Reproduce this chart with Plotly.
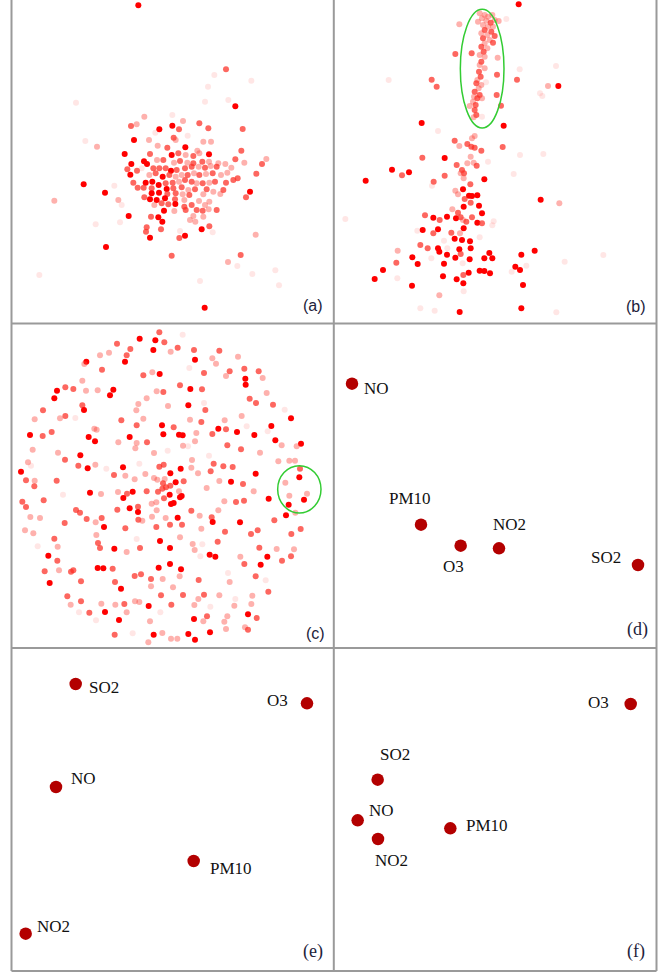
import plotly.graph_objects as go

W, H = 668, 973

# ---------------- data (panel-local units) ----------------
# each point: (x, y, intensity level 1..4)
a_points = [
    (415, 16, 4), (678, 208, 3), (643, 225, 1), (754, 242, 1), (624, 260, 1), (228, 308, 1), (615, 305, 1),
    (685, 300, 1), (706, 319, 4), (433, 350, 2), (517, 345, 1), (549, 363, 2), (598, 370, 3), (393, 378, 3),
    (410, 373, 2), (478, 388, 4), (517, 377, 4), (537, 388, 3), (625, 385, 3), (728, 387, 3), (466, 398, 1),
    (447, 420, 2), (402, 420, 4), (521, 413, 3), (527, 420, 2), (563, 407, 1), (610, 425, 2), (633, 425, 2),
    (256, 423, 1), (291, 440, 2), (473, 437, 2), (502, 443, 3), (556, 442, 4), (592, 452, 2), (374, 462, 4),
    (450, 462, 3), (515, 465, 4), (535, 460, 3), (557, 465, 2), (580, 468, 3), (627, 463, 4), (598, 460, 2),
    (724, 452, 3), (471, 480, 2), (490, 480, 3), (432, 484, 4), (441, 492, 4), (522, 488, 2), (540, 483, 3),
    (562, 488, 2), (580, 490, 3), (607, 485, 3), (627, 485, 2), (655, 490, 2), (676, 492, 2), (706, 478, 3),
    (733, 488, 2), (786, 492, 3), (799, 477, 2), (394, 492, 4), (382, 508, 3), (411, 512, 3), (425, 505, 1),
    (460, 505, 3), (478, 505, 3), (497, 505, 3), (513, 512, 4), (530, 510, 3), (555, 505, 3), (575, 500, 3),
    (596, 500, 2), (615, 503, 3), (632, 498, 2), (650, 500, 3), (694, 503, 2), (769, 521, 3), (391, 524, 4),
    (448, 525, 2), (467, 520, 3), (488, 530, 4), (508, 525, 3), (527, 530, 2), (545, 525, 2), (563, 525, 3),
    (582, 520, 2), (598, 525, 3), (618, 522, 2), (638, 520, 3), (663, 525, 2), (682, 518, 2), (713, 535, 3),
    (700, 540, 3), (251, 553, 4), (343, 557, 1), (400, 548, 3), (413, 563, 3), (437, 548, 4), (457, 545, 4),
    (476, 555, 4), (497, 550, 3), (518, 548, 3), (537, 545, 2), (555, 540, 3), (575, 545, 3), (590, 550, 2),
    (608, 550, 3), (628, 548, 2), (645, 545, 3), (678, 548, 3), (431, 563, 3), (455, 565, 3), (500, 567, 4),
    (520, 565, 3), (545, 562, 3), (565, 570, 2), (585, 568, 3), (620, 568, 3), (640, 575, 2), (670, 570, 3),
    (661, 582, 2), (315, 578, 4), (455, 580, 4), (477, 578, 4), (502, 582, 3), (527, 580, 3), (548, 583, 2),
    (568, 585, 3), (610, 583, 2), (750, 575, 4), (738, 592, 3), (163, 602, 2), (355, 600, 2), (365, 615, 1),
    (433, 592, 3), (450, 598, 4), (470, 600, 4), (495, 595, 4), (525, 598, 3), (553, 600, 2), (597, 603, 2),
    (628, 605, 2), (463, 615, 2), (485, 610, 3), (505, 613, 3), (526, 612, 4), (553, 620, 3), (575, 615, 3),
    (615, 615, 2), (492, 632, 4), (523, 633, 2), (557, 630, 3), (590, 630, 3), (608, 632, 3), (626, 628, 2),
    (650, 630, 3), (386, 648, 4), (453, 650, 3), (475, 652, 4), (487, 665, 4), (580, 648, 2), (610, 650, 2),
    (570, 660, 2), (586, 665, 2), (287, 673, 1), (360, 667, 1), (440, 682, 3), (483, 688, 3), (438, 695, 3),
    (605, 688, 4), (628, 679, 3), (540, 693, 1), (638, 697, 1), (450, 713, 4), (538, 714, 3), (555, 707, 4),
    (767, 704, 2), (318, 741, 4), (515, 767, 3), (722, 765, 3), (684, 786, 2), (712, 798, 1), (118, 825, 1),
    (826, 811, 1), (600, 843, 1), (757, 822, 1), (837, 856, 1), (614, 923, 4),
]

b_points = [
    (572, 13, 4), (455, 40, 2), (470, 45, 2), (480, 50, 2), (493, 45, 2), (462, 55, 2), (450, 65, 2), (475, 62, 2),
    (488, 68, 3), (500, 60, 2), (512, 63, 2), (535, 57, 1), (394, 73, 2), (465, 75, 2), (480, 80, 2), (495, 80, 2),
    (470, 90, 3), (490, 95, 3), (460, 100, 2), (478, 105, 2), (500, 108, 3), (465, 115, 3), (485, 120, 2),
    (495, 128, 3), (470, 130, 2), (460, 140, 3), (478, 145, 2), (467, 155, 3), (455, 165, 2), (470, 170, 2),
    (460, 185, 3), (455, 195, 2), (470, 205, 2), (453, 215, 3), (458, 230, 3), (448, 240, 2), (445, 250, 3),
    (460, 255, 2), (452, 265, 2), (440, 275, 3), (455, 285, 3), (438, 290, 2), (448, 295, 3), (462, 295, 2),
    (435, 305, 2), (443, 315, 3), (440, 330, 3), (445, 345, 3), (437, 352, 2), (462, 350, 1), (425, 318, 2),
    (382, 162, 3), (431, 160, 3), (509, 173, 2), (507, 224, 3), (506, 285, 3), (519, 317, 3), (474, 247, 1),
    (575, 208, 1), (684, 198, 1), (567, 239, 3), (182, 240, 1), (311, 239, 3), (326, 260, 3), (691, 258, 4),
    (660, 258, 2), (636, 280, 1), (643, 288, 1), (281, 369, 4), (527, 377, 4), (330, 393, 1),
    (440, 408, 2), (432, 415, 2), (380, 422, 3), (394, 438, 2), (418, 432, 3), (430, 440, 3), (440, 443, 3),
    (460, 452, 3), (524, 441, 3), (576, 465, 1), (646, 462, 1), (283, 473, 3), (350, 474, 4), (428, 470, 2),
    (418, 490, 2), (437, 488, 2), (446, 497, 3), (480, 485, 1), (386, 495, 3), (402, 510, 3), (408, 520, 3),
    (398, 520, 2), (192, 509, 4), (222, 526, 3), (243, 517, 4), (350, 527, 3), (407, 535, 2), (557, 522, 1),
    (469, 538, 4), (317, 545, 3), (312, 557, 1), (113, 542, 4), (427, 553, 3), (405, 568, 4), (382, 572, 2),
    (390, 583, 2), (423, 587, 4), (432, 588, 4), (448, 586, 4), (410, 597, 3), (428, 608, 3), (638, 599, 4),
    (694, 610, 2), (453, 617, 4), (407, 620, 4), (373, 628, 2), (390, 638, 3), (462, 640, 4), (291, 646, 3),
    (316, 653, 4), (335, 660, 3), (357, 650, 4), (384, 655, 4), (398, 652, 3), (432, 652, 3), (405, 660, 2),
    (415, 665, 3), (448, 668, 4), (462, 670, 3), (497, 664, 1), (493, 676, 1), (52, 657, 1), (284, 690, 4),
    (268, 692, 1), (330, 688, 4), (316, 700, 3), (370, 698, 3), (407, 685, 4), (396, 700, 2), (348, 722, 1),
    (380, 716, 4), (402, 720, 4), (426, 724, 4), (455, 712, 1), (277, 735, 3), (299, 745, 3), (330, 745, 4),
    (334, 755, 4), (358, 745, 1), (394, 748, 4), (428, 745, 4), (620, 752, 4), (209, 752, 2), (253, 772, 4),
    (310, 775, 1), (357, 764, 4), (382, 773, 4), (398, 762, 3), (425, 778, 4), (469, 775, 4), (484, 759, 4),
    (493, 775, 4), (580, 764, 4), (826, 765, 1), (710, 785, 1), (205, 788, 3), (269, 792, 4), (348, 791, 4),
    (404, 790, 1), (595, 797, 1), (165, 810, 4), (562, 800, 4), (576, 810, 4), (455, 812, 4), (469, 813, 4),
    (486, 820, 4), (422, 818, 4), (406, 825, 3), (551, 815, 1), (140, 837, 4), (345, 829, 4), (386, 838, 4),
    (406, 850, 4), (208, 835, 1), (252, 857, 4), (585, 855, 4), (334, 886, 2), (407, 874, 1), (580, 925, 4),
    (395, 936, 4), (277, 925, 1), (320, 932, 1), (685, 937, 1),
]

c_points = [
    (478, 43, 3), (548, 50, 1), (419, 62, 4), (466, 67, 4), (493, 73, 3), (351, 77, 3), (460, 96, 4), (533, 89, 3),
    (391, 93, 3), (512, 101, 2), (582, 96, 3), (658, 98, 3), (327, 104, 2), (300, 112, 2), (380, 112, 3),
    (714, 116, 2), (585, 125, 4), (637, 121, 2), (648, 137, 2), (375, 131, 4), (259, 131, 4), (253, 138, 2),
    (568, 150, 1), (306, 155, 3), (430, 172, 3), (457, 163, 2), (479, 168, 4), (612, 165, 3), (689, 160, 3),
    (678, 174, 2), (733, 152, 3), (776, 160, 3), (736, 182, 4), (737, 200, 4), (788, 180, 2), (247, 188, 2),
    (540, 202, 3), (571, 213, 4), (606, 214, 3), (196, 208, 3), (220, 213, 3), (171, 218, 4), (163, 241, 4),
    (258, 218, 2), (293, 217, 2), (340, 215, 4), (330, 232, 4), (470, 220, 2), (490, 222, 3), (440, 241, 2),
    (800, 225, 2), (749, 242, 3), (768, 255, 3), (819, 260, 3), (854, 275, 1), (612, 255, 1), (565, 262, 4),
    (504, 264, 2), (415, 258, 2), (247, 262, 3), (252, 276, 4), (129, 277, 3), (409, 277, 2), (616, 276, 3),
    (196, 294, 3), (180, 301, 2), (226, 300, 1), (104, 304, 2), (364, 307, 3), (430, 302, 2), (570, 305, 2),
    (604, 312, 3), (674, 307, 2), (725, 294, 2), (873, 301, 4), (410, 322, 3), (486, 322, 4), (521, 328, 3),
    (655, 332, 4), (678, 334, 3), (711, 342, 4), (740, 325, 1), (814, 324, 4), (803, 340, 1), (283, 332, 2),
    (290, 335, 2), (155, 342, 3), (90, 351, 4), (128, 354, 3), (266, 357, 4), (285, 370, 4), (389, 357, 4),
    (490, 349, 4), (537, 350, 4), (548, 352, 4), (589, 345, 2), (637, 348, 3), (763, 351, 4), (826, 367, 4),
    (845, 382, 2), (903, 377, 4), (890, 385, 2), (355, 373, 2), (410, 375, 2), (441, 373, 3), (585, 370, 2),
    (549, 383, 2), (564, 385, 1), (682, 382, 3), (723, 394, 3), (98, 395, 2), (406, 391, 2), (174, 404, 2),
    (241, 412, 4), (195, 425, 3), (462, 405, 2), (503, 398, 1), (780, 404, 2), (627, 413, 1), (576, 426, 2),
    (835, 430, 2), (868, 428, 2), (885, 428, 2), (84, 433, 2), (93, 443, 1), (235, 443, 3), (263, 451, 4),
    (286, 440, 2), (319, 452, 1), (369, 448, 4), (418, 437, 1), (478, 446, 3), (491, 440, 3), (542, 452, 4),
    (574, 449, 2), (641, 437, 3), (670, 445, 3), (63, 461, 4), (342, 471, 3), (376, 473, 2), (436, 468, 2),
    (462, 480, 2), (472, 485, 2), (511, 466, 4), (632, 460, 3), (594, 466, 2), (698, 447, 3), (767, 467, 4),
    (78, 487, 3), (104, 488, 2), (170, 488, 3), (404, 484, 2), (494, 483, 2), (527, 493, 4), (489, 496, 3),
    (511, 503, 3), (498, 508, 3), (551, 490, 3), (658, 489, 2), (693, 491, 4), (729, 498, 3), (900, 452, 3),
    (898, 478, 4), (856, 494, 2), (103, 505, 3), (398, 521, 4), (381, 527, 3), (354, 522, 2), (440, 520, 3),
    (474, 521, 3), (487, 512, 3), (509, 530, 4), (537, 520, 2), (620, 510, 2), (761, 520, 2), (270, 524, 4),
    (303, 528, 2), (189, 530, 1), (868, 533, 2), (921, 527, 2), (370, 540, 4), (492, 541, 3), (540, 538, 4),
    (545, 534, 4), (521, 555, 4), (513, 558, 4), (469, 553, 2), (455, 557, 2), (912, 545, 4), (866, 560, 4),
    (806, 542, 4), (708, 552, 3), (732, 548, 3), (673, 550, 2), (131, 547, 3), (67, 551, 3), (78, 567, 3),
    (574, 578, 3), (655, 577, 2), (389, 571, 4), (414, 566, 3), (414, 582, 4), (352, 575, 3), (228, 576, 3),
    (240, 584, 3), (470, 577, 2), (599, 593, 2), (858, 592, 4), (886, 584, 2), (91, 597, 2), (120, 600, 2),
    (260, 603, 3), (305, 600, 3), (456, 596, 2), (497, 600, 2), (533, 599, 4), (635, 598, 3), (194, 615, 3),
    (287, 613, 2), (415, 605, 3), (427, 608, 2), (510, 620, 3), (546, 620, 3), (638, 612, 4), (720, 613, 4),
    (823, 607, 3), (312, 627, 4), (376, 631, 3), (469, 627, 3), (604, 632, 2), (902, 633, 3), (75, 637, 2),
    (100, 646, 2), (675, 641, 3), (753, 648, 3), (773, 637, 3), (874, 648, 3), (289, 651, 2), (163, 662, 3),
    (294, 675, 3), (410, 663, 1), (480, 669, 4), (540, 658, 2), (578, 678, 2), (607, 679, 1), (653, 671, 3),
    (113, 685, 1), (173, 686, 2), (300, 690, 3), (343, 692, 4), (380, 702, 2), (420, 690, 3), (510, 690, 4),
    (584, 696, 2), (778, 689, 3), (830, 693, 2), (882, 694, 2), (145, 713, 4), (629, 710, 4), (646, 716, 4),
    (721, 716, 2), (802, 716, 4), (873, 715, 3), (601, 715, 1), (172, 728, 3), (846, 728, 3), (733, 738, 3),
    (782, 740, 4), (293, 750, 4), (310, 751, 4), (338, 752, 3), (476, 749, 4), (510, 738, 4), (543, 754, 4),
    (423, 769, 3), (404, 774, 3), (220, 757, 3), (213, 761, 3), (134, 760, 3), (177, 757, 2), (539, 775, 2),
    (684, 765, 1), (767, 775, 3), (453, 783, 3), (488, 783, 2), (149, 795, 4), (243, 790, 3), (345, 792, 3),
    (596, 786, 3), (689, 792, 2), (797, 787, 1), (363, 812, 4), (453, 805, 2), (519, 808, 2), (805, 821, 3),
    (202, 835, 3), (483, 832, 3), (549, 831, 3), (612, 830, 3), (658, 832, 2), (595, 843, 2), (706, 843, 1),
    (757, 833, 2), (212, 860, 2), (243, 850, 3), (304, 857, 2), (346, 860, 2), (373, 858, 3), (405, 850, 2),
    (418, 852, 2), (446, 864, 4), (514, 860, 3), (583, 861, 2), (631, 866, 1), (703, 863, 2), (754, 858, 2),
    (237, 883, 1), (268, 884, 3), (315, 882, 4), (380, 883, 2), (481, 883, 1), (450, 910, 2), (621, 895, 3),
    (682, 895, 2), (744, 889, 4), (288, 907, 1), (357, 906, 4), (582, 903, 4), (610, 910, 2), (673, 911, 2),
    (344, 950, 3), (398, 946, 1), (461, 950, 4), (487, 945, 2), (513, 962, 2), (565, 948, 4), (585, 965, 4),
    (630, 943, 4), (678, 933, 2), (445, 973, 2), (532, 962, 2), (735, 928, 2), (770, 900, 3), (744, 935, 3),
]

pollutants = ["NO", "PM10", "O3", "NO2", "SO2"]
d_x = [72, 279, 398, 513, 930]
d_y = [197, 620, 683, 691, 741]
e_x = [168, 581, 921, 77, 227]
e_y = [441, 663, 190, 881, 132]
f_x = [89, 367, 908, 150, 149]
f_y = [541, 565, 192, 597, 419]

# label anchors (x, y, xanchor) per pollutant
d_lab = [(103, 212, "left"), (247, 540, "center"), (377, 745, "center"), (544, 620, "center"), (886, 718, "right")]
e_lab = [(208, 414, "left"), (625, 684, "left"), (870, 182, "right"), (105, 858, "left"), (260, 143, "left")]
f_lab = [(116, 510, "left"), (407, 555, "left"), (848, 188, "right"), (190, 660, "center"), (202, 342, "center")]

panel_letters = ["(a)", "(b)", "(c)", "(d)", "(e)", "(f)"]
letter_pos = [(940, 915), (925, 920), (945, 945), (928, 935), (940, 933), (925, 935)]

# ---------------- layout geometry (page pixels) ----------------
XL, XM, XR = 11.5, 333.8, 656.5
Y0, Y1, Y2, Y3 = 0.0, 323.5, 648.0, 971.0

# panel: (px_left, px_right, px_top, px_bottom, x-range, y-range)
panels = [
    (XL, XM, Y0, Y1, [34.5, 1001.4], [970.5, 0]),
    (XM, XR, Y0, Y1, [17.4, 985.5], [970.5, 0]),
    (XL, XM, Y1, Y2, [34.5, 1001.4], [990, 16.5]),
    (XM, XR, Y1, Y2, [17.4, 985.5], [990, 16.5]),
    (XL, XM, Y2, Y3, [34.5, 1001.4], [993, 24]),
    (XM, XR, Y2, Y3, [17.4, 985.5], [993, 24]),
]

level_color = {
    4: "rgba(255,0,0,1)",
    3: "rgba(252,45,35,0.72)",
    2: "rgba(252,70,60,0.42)",
    1: "rgba(252,90,80,0.15)",
}

fig = go.Figure()
layout_axes = {}
for i, (l, r, t, b, xr, yr) in enumerate(panels):
    n = "" if i == 0 else str(i + 1)
    layout_axes["xaxis" + n] = dict(domain=[l / W, r / W], range=xr, visible=False,
                                    anchor="y" + n, fixedrange=True)
    layout_axes["yaxis" + n] = dict(domain=[1 - b / H, 1 - t / H], range=yr, visible=False,
                                    anchor="x" + n, fixedrange=True)

for i, pts in enumerate([a_points, b_points, c_points]):
    n = "" if i == 0 else str(i + 1)
    xs = [p[0] for p in pts]
    ys = [p[1] for p in pts]
    cs = [level_color[p[2]] for p in pts]
    fig.add_trace(go.Scatter(x=xs, y=ys, mode="markers", xaxis="x" + n, yaxis="y" + n,
                             marker=dict(size=6, color=cs, line=dict(width=0)),
                             showlegend=False, hoverinfo="skip"))

annotations = []
for i, (xs, ys, labs) in enumerate([(d_x, d_y, d_lab), (e_x, e_y, e_lab), (f_x, f_y, f_lab)]):
    n = str(i + 4)
    fig.add_trace(go.Scatter(x=xs, y=ys, mode="markers", xaxis="x" + n, yaxis="y" + n,
                             marker=dict(size=12.5, color="#b30000", line=dict(width=0)),
                             showlegend=False, hoverinfo="skip"))
    for name, (lx, ly, xa) in zip(pollutants, labs):
        annotations.append(dict(x=lx, y=ly, xref="x" + n, yref="y" + n, text=name, showarrow=False,
                                xanchor=xa, yanchor="middle",
                                font=dict(family="Liberation Serif", size=17, color="#111111")))

for i, (txt, (lx, ly)) in enumerate(zip(panel_letters, letter_pos)):
    n = "" if i == 0 else str(i + 1)
    fam = "Liberation Sans" if i < 3 else "Liberation Serif"
    size = 16 if i < 3 else 18
    annotations.append(dict(x=lx, y=ly, xref="x" + n, yref="y" + n, text=txt, showarrow=False,
                            xanchor="center", yanchor="middle",
                            font=dict(family=fam, size=size, color="#22223a")))

shapes = []
line_style = dict(color="#9a9a9a", width=2)
for xv in [XL, XM, XR]:
    shapes.append(dict(type="line", xref="paper", yref="paper", x0=xv / W, x1=xv / W,
                       y0=1 - Y0 / H, y1=1 - Y3 / H, line=line_style))
for yv in [Y1, Y2, Y3]:
    shapes.append(dict(type="line", xref="paper", yref="paper", x0=XL / W, x1=XR / W,
                       y0=1 - yv / H, y1=1 - yv / H, line=line_style))
# highlight ellipses
shapes.append(dict(type="circle", xref="x2", yref="y2", x0=397, x1=528, y0=28, y1=384,
                   line=dict(color="#33cc33", width=1.5)))
shapes.append(dict(type="circle", xref="x3", yref="y3", x0=833, x1=963, y0=443, y1=585,
                   line=dict(color="#33cc33", width=1.5)))

fig.update_layout(width=W, height=H, margin=dict(l=0, r=0, t=0, b=0),
                  paper_bgcolor="white", plot_bgcolor="white",
                  annotations=annotations, shapes=shapes, **layout_axes)

fig.write_html("out.html")
